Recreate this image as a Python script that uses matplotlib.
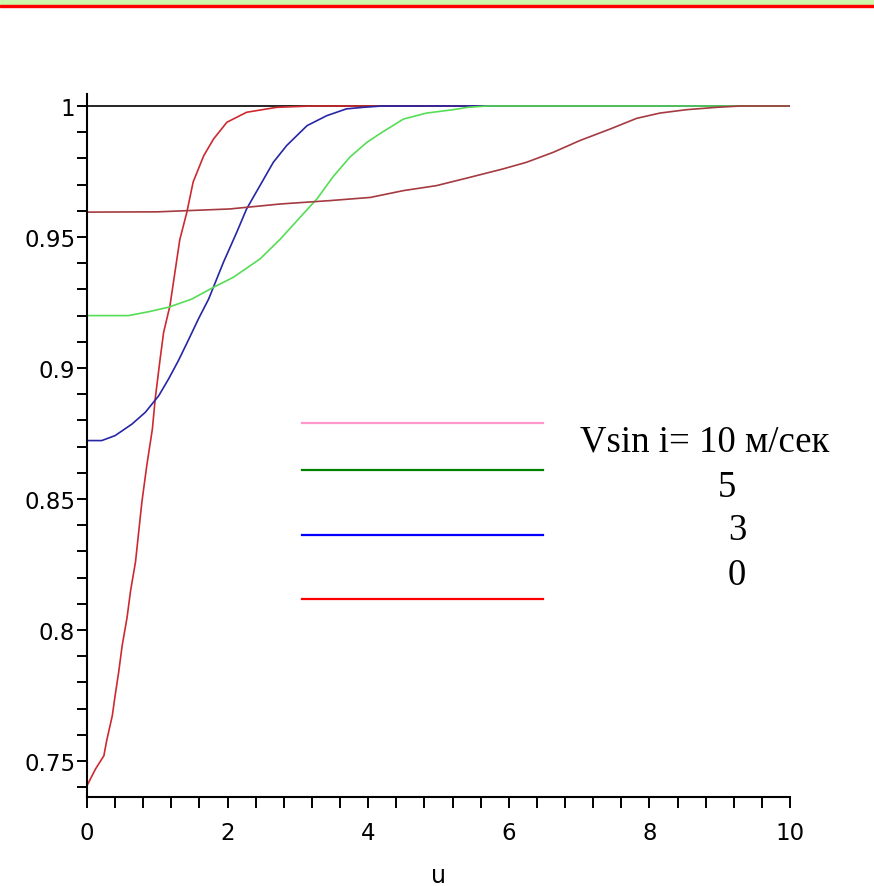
import matplotlib

matplotlib.use("Agg")
import matplotlib.pyplot as plt
from matplotlib.lines import Line2D
from matplotlib.patches import Rectangle
from matplotlib.ticker import FixedLocator, FuncFormatter, MultipleLocator

# Curves (u, value); each one runs on at 1 up to u = 10.
black_u = [0.0, 10.0]
black_y = [1.0, 1.0]

red_u = [0.0, 0.12, 0.24, 0.28, 0.36, 0.40, 0.45, 0.50, 0.57, 0.62, 0.69,
         0.78, 0.85, 0.93, 0.97, 1.04, 1.09, 1.18, 1.32, 1.42, 1.51, 1.66,
         1.8, 1.99, 2.27, 2.7, 3.2, 10.0]
red_y = [0.7406, 0.7469, 0.752, 0.7578, 0.7673, 0.775, 0.7838, 0.794, 0.8048,
         0.815, 0.826, 0.8487, 0.8627, 0.8767, 0.8882, 0.9034, 0.9136, 0.9238,
         0.949, 0.9594, 0.971, 0.981, 0.9874, 0.9938, 0.9976, 0.9995, 1.0, 1.0]

blue_u = [0.0, 0.21, 0.40, 0.64, 0.83, 1.02, 1.16, 1.30, 1.45, 1.59, 1.73,
          1.94, 2.13, 2.27, 2.46, 2.65, 2.84, 3.13, 3.41, 3.69, 3.93, 4.2, 10.0]
blue_y = [0.8723, 0.8723, 0.8742, 0.8786, 0.8831, 0.8894, 0.8958, 0.9028,
          0.9111, 0.919, 0.9263, 0.9403, 0.9518, 0.9607, 0.9696, 0.9785,
          0.9849, 0.9925, 0.9963, 0.9989, 0.9995, 1.0, 1.0]

green_u = [0.0, 0.59, 0.88, 1.16, 1.49, 1.8, 2.08, 2.46, 2.75, 3.03, 3.27,
           3.5, 3.74, 3.98, 4.17, 4.26, 4.5, 4.83, 5.21, 5.42, 5.7, 10.0]
green_y = [0.92, 0.92, 0.9215, 0.9232, 0.9263, 0.9308, 0.9346, 0.9416,
           0.9492, 0.9575, 0.9645, 0.973, 0.9805, 0.9861, 0.9895, 0.991,
           0.995, 0.9973, 0.9986, 0.9995, 1.0, 1.0]

brown_u = [0.0, 1.0, 2.03, 2.75, 3.46, 4.03, 4.5, 4.97, 5.45, 5.92, 6.25,
           6.63, 7.01, 7.44, 7.82, 8.15, 8.53, 8.96, 9.3, 10.0]
brown_y = [0.9595, 0.9596, 0.9607, 0.9626, 0.9639, 0.9651, 0.9677, 0.9696,
           0.9728, 0.976, 0.9785, 0.9823, 0.9868, 0.9912, 0.9953, 0.9973,
           0.9986, 0.9995, 1.0, 1.0]

x_tick_labels = ["0", "2", "4", "6", "8", "10"]
y_major_ticks = [0.75, 0.8, 0.85, 0.9, 0.95, 1.0]

legend_labels = ["Vsin i= 10 м/сек", "5", "3", "0"]
legend_colors = ["#ff99cc", "#008000", "#0000ff", "#ff0000"]

W, H = 874, 887
fig = plt.figure(figsize=(W / 100, H / 100), dpi=100)

# slide header: pale green band with a red rule under it
fig.patches.append(Rectangle((0, 1 - 6 / H), 1, 6 / H, transform=fig.transFigure,
                             color="#cdf7aa", zorder=0))
fig.patches.append(Rectangle((0, 1 - 8 / H), 1, 2.3 / H, transform=fig.transFigure,
                             color="#ff0000", zorder=0))

ax = fig.add_axes([87 / W, 89 / H, 703 / W, 703 / H])

# drawing order matters: later curves hide earlier ones along y = 1
ax.plot(black_u, black_y, color="#000000", lw=1.2)
ax.plot(red_u, red_y, color="#cc2a30", lw=1.2)
ax.plot(blue_u, blue_y, color="#2626a6", lw=1.2)
ax.plot(green_u, green_y, color="#55dd55", lw=1.2)
ax.plot(brown_u, brown_y, color="#a53a40", lw=1.2)

ax.set_xlim(0, 10)
ax.set_ylim(0.73626, 1.00458)
ax.spines[["top", "right"]].set_visible(False)
for side in ["left", "bottom"]:
    ax.spines[side].set_linewidth(1.5)

ax.xaxis.set_major_locator(FixedLocator([0, 2, 4, 6, 8, 10]))
ax.xaxis.set_major_formatter(FuncFormatter(lambda v, _p: x_tick_labels[int(round(v / 2))]))
ax.xaxis.set_minor_locator(MultipleLocator(0.4))
ax.yaxis.set_major_locator(FixedLocator(y_major_ticks))
ax.yaxis.set_major_formatter(FuncFormatter(lambda v, _p: f"{v:g}"))
ax.yaxis.set_minor_locator(FixedLocator([0.74 + 0.01 * k for k in range(27)]))

ax.tick_params(axis="both", which="both", direction="out", width=1.4,
               labelsize=16.5, colors="#000000")
ax.tick_params(axis="x", which="both", length=8, pad=9)
ax.tick_params(axis="y", which="both", length=7, pad=1.5)
ax.set_xlabel("u", fontsize=17, labelpad=14)

# hand-placed key, as on the original slide
line_rows = [424, 471, 536, 600]
for y_px, c in zip(line_rows, legend_colors):
    fig.add_artist(Line2D([302 / W, 543 / W], [1 - y_px / H, 1 - y_px / H],
                          transform=fig.transFigure, color=c, lw=1.6))

text_rows = [(705, 452), (727, 497), (737, 540), (737, 585)]
for (x_px, y_px), txt in zip(text_rows, legend_labels):
    fig.text(x_px / W, 1 - y_px / H, txt, family="Liberation Serif", fontsize=26.5,
             ha="center", va="baseline")

fig.savefig("out.png", dpi=100)
